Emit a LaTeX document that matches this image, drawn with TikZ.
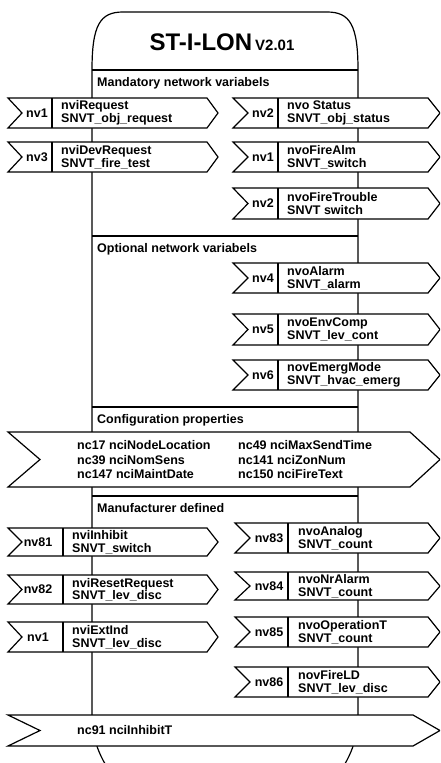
\documentclass[tikz,border=0pt]{standalone}
\usepackage{fontspec}
\setmainfont{Liberation Sans}
\usetikzlibrary{positioning}

\tikzset{
  body/.style={draw, line width=1.2pt},
  sig/.style={draw, fill=white, line width=1.2pt},
  nvlbl/.style={font=\bfseries\fontsize{12.5}{12.5}\selectfont, inner sep=0pt},
  nvtxt/.style={font=\bfseries\fontsize{12.5}{12.5}\selectfont, align=left, anchor=west, inner sep=0pt},
  cptxt/.style={font=\bfseries\fontsize{12.5}{14.5}\selectfont, align=left, anchor=west, inner sep=0pt},
  hdr/.style={font=\bfseries\fontsize{12.5}{12.5}\selectfont, anchor=base west, inner sep=0pt},
}

\begin{document}
\begin{tikzpicture}[x=1pt,y=-1pt]
\useasboundingbox (0,0) rectangle (440,763);
\clip (0,0) rectangle (440,763);

% body of the device
\coordinate (topL) at (92,70);
\coordinate (topR) at (358,70);
\coordinate (botL) at (92,720);
\coordinate (botR) at (358,720);
\draw[body] (botL) -- (topL) .. controls (92,25) and (100,12) .. (123,12) -- (327,12) .. controls (350,12) and (358,25) .. (topR) -- (botR);
\draw[body] (botL) .. controls (93,745) and (104,768) .. (125,790);
\draw[body] (botR) .. controls (357,745) and (346,768) .. (325,790);

\node[anchor=base, inner sep=0pt, font=\bfseries] (title) at (222,50)
  {\fontsize{24}{24}\selectfont ST-I-LON\kern3pt\fontsize{15}{15}\selectfont V2.01};

% section headers
\foreach \y/\t [count=\i] in {70/Mandatory network variabels, 236/Optional network variabels,
                             407/Configuration properties, 496/Manufacturer defined} {
  \draw[body] (92,\y) -- (358,\y);
  \node[hdr] (hdr\i) at (97,\y+16) {\t};
}

% mandatory inputs
\foreach \yt/\yb/\nv/\nm/\ty [count=\i] in {98/128/nv1/nviRequest/SNVT\_obj\_request,
                                            142/172/nv3/nviDevRequest/SNVT\_fire\_test} {
  \draw[sig] (8,\yt) -- (207,\yt) -- (218,{(\yt+\yb)/2}) -- (207,\yb) -- (8,\yb) -- (22,{(\yt+\yb)/2}) -- cycle;
  \draw[sig] (52,\yt) -- (52,\yb);
  \node[nvlbl] (mi\i) at (37,{(\yt+\yb)/2}) {\nv};
  \node[nvtxt] (mit\i) at (61,{(\yt+\yb)/2}) {\nm\\\ty};
}

% mandatory and optional outputs
\foreach \yt/\yb/\nv/\nm/\ty [count=\i] in {98/128/nv2/nvo Status/SNVT\_obj\_status,
                                            142/172/nv1/nvoFireAlm/SNVT\_switch,
                                            188/219/nv2/nvoFireTrouble/SNVT switch,
                                            263/293/nv4/nvoAlarm/SNVT\_alarm,
                                            314/345/nv5/nvoEnvComp/SNVT\_lev\_cont,
                                            360/390/nv6/novEmergMode/SNVT\_hvac\_emerg} {
  \draw[sig] (233,\yt) -- (428,\yt) -- (440,{(\yt+\yb)/2}) -- (428,\yb) -- (233,\yb) -- (248,{(\yt+\yb)/2}) -- cycle;
  \draw[sig] (278,\yt) -- (278,\yb);
  \node[nvlbl] (mo\i) at (263,{(\yt+\yb)/2}) {\nv};
  \node[nvtxt] (mot\i) at (287,{(\yt+\yb)/2}) {\nm\\\ty};
}

% configuration properties
\draw[sig] (8,432) -- (410,432) -- (440,459.5) -- (410,487) -- (8,487) -- (40,459.5) -- cycle;
\node[cptxt] (cp1) at (77,460) {nc17 nciNodeLocation\\nc39 nciNomSens\\nc147 nciMaintDate};
\node[cptxt] (cp2) at (238,460) {nc49 nciMaxSendTime\\nc141 nciZonNum\\nc150 nciFireText};

% manufacturer inputs
\foreach \yt/\yb/\nv/\nm/\ty [count=\i] in {528/556/nv81/nviInhibit/SNVT\_switch,
                                            575/604/nv82/nviResetRequest/SNVT\_lev\_disc,
                                            622/652/nv1/nviExtInd/SNVT\_lev\_disc} {
  \draw[sig] (8,\yt) -- (207,\yt) -- (218,{(\yt+\yb)/2}) -- (207,\yb) -- (8,\yb) -- (22,{(\yt+\yb)/2}) -- cycle;
  \draw[sig] (63,\yt) -- (63,\yb);
  \node[nvlbl] (fi\i) at (38,{(\yt+\yb)/2}) {\nv};
  \node[nvtxt] (fit\i) at (72,{(\yt+\yb)/2}) {\nm\\\ty};
}

% manufacturer outputs
\foreach \yt/\yb/\nv/\nm/\ty [count=\i] in {523/553/nv83/nvoAnalog/SNVT\_count,
                                            572/600/nv84/nvoNrAlarm/SNVT\_count,
                                            617/647/nv85/nvoOperationT/SNVT\_count,
                                            667/697/nv86/novFireLD/SNVT\_lev\_disc} {
  \draw[sig] (235,\yt) -- (428,\yt) -- (440,{(\yt+\yb)/2}) -- (428,\yb) -- (235,\yb) -- (250,{(\yt+\yb)/2}) -- cycle;
  \draw[sig] (288,\yt) -- (288,\yb);
  \node[nvlbl] (fo\i) at (269,{(\yt+\yb)/2}) {\nv};
  \node[nvtxt] (fot\i) at (298,{(\yt+\yb)/2}) {\nm\\\ty};
}

% inhibit time
\draw[sig] (8,715) -- (413,715) -- (440,730.5) -- (413,746) -- (8,746) -- (40,730.5) -- cycle;
\node[cptxt] (inh) at (77,730.5) {nc91 nciInhibitT};
\end{tikzpicture}
\end{document}
